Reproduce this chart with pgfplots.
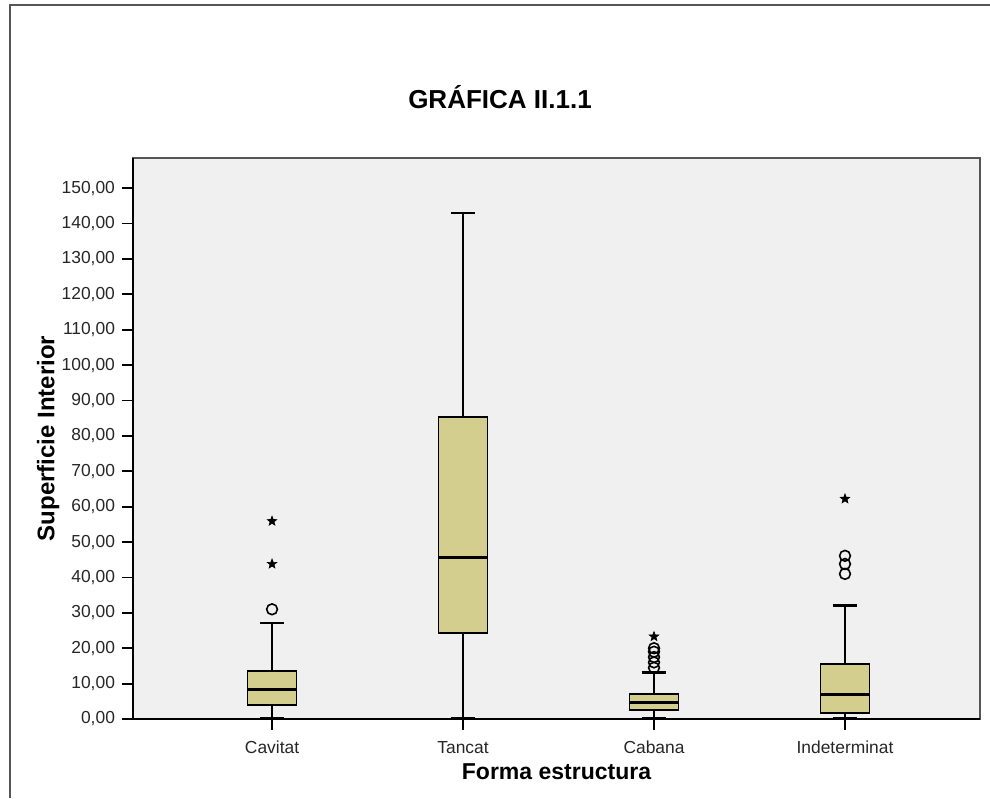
\documentclass[border=0pt]{standalone}
\usepackage{pgfplots}
\pgfplotsset{compat=1.18}
\usepgfplotslibrary{statistics}
\usepackage{fontspec}
\setmainfont{Liberation Sans}
\definecolor{bgcol}{HTML}{F0F0F0}
\definecolor{boxcol}{HTML}{D3CE8D}
\definecolor{framecol}{HTML}{555555}
\pgfdeclareplotmark{fstar}{%
  \pgfpathmoveto{\pgfpointpolar{90}{\pgfplotmarksize}}%
  \pgfpathlineto{\pgfpointpolar{126}{0.42\pgfplotmarksize}}%
  \pgfpathlineto{\pgfpointpolar{162}{\pgfplotmarksize}}%
  \pgfpathlineto{\pgfpointpolar{198}{0.42\pgfplotmarksize}}%
  \pgfpathlineto{\pgfpointpolar{234}{\pgfplotmarksize}}%
  \pgfpathlineto{\pgfpointpolar{270}{0.42\pgfplotmarksize}}%
  \pgfpathlineto{\pgfpointpolar{306}{\pgfplotmarksize}}%
  \pgfpathlineto{\pgfpointpolar{342}{0.42\pgfplotmarksize}}%
  \pgfpathlineto{\pgfpointpolar{18}{\pgfplotmarksize}}%
  \pgfpathlineto{\pgfpointpolar{54}{0.42\pgfplotmarksize}}%
  \pgfpathclose\pgfusepathqfillstroke}
\begin{document}
\begin{tikzpicture}
\path[use as bounding box] (0,0) rectangle (495pt,-399pt);
\draw[framecol, line width=0.7pt] (5pt,-399pt) -- (5pt,-2.5pt) -- (495pt,-2.5pt);
\node[font=\fontsize{13}{15}\selectfont\bfseries] at (250pt,-48.5pt) {GRÁFICA II.1.1};
\begin{axis}[
  at={(66.5pt,-359.5pt)}, anchor=south west,
  scale only axis, width=423.5pt, height=280.5pt,
  xmin=0.272, xmax=4.707, ymin=0, ymax=158.5,
  axis background/.style={fill=bgcol},
  axis line style={draw=framecol, line width=0.6pt},
  xtick={1,2,3,4},
  xticklabels={Cavitat,Tancat,Cabana,Indeterminat},
  ytick={0,10,...,150},
  tick pos=left, tick align=outside,
  major tick length=5.5pt,
  tick style={black, line width=0.9pt},
  yticklabel style={/pgf/number format/.cd, fixed, fixed zerofill, precision=2, use comma, 1000 sep={}, assume math mode=true},
  ticklabel style={font=\fontsize{8.7}{10}\selectfont, text=black!85},
  xticklabel style={text height=1.6ex, text depth=0.3ex},
  xlabel={Forma estructura},
  ylabel={Superficie Interior},
  xlabel style={font=\fontsize{11.5}{13}\selectfont\bfseries, at={(axis description cs:0.5,-0.0945)}, anchor=center},
  ylabel style={font=\fontsize{12}{14}\selectfont\bfseries, at={(axis description cs:-0.1,0.5)}, anchor=center, rotate=0},
  boxplot/draw direction=y,
  boxplot/every box/.style={line width=0.9pt},
  boxplot/every whisker/.style={line width=1.3pt},
  boxplot/every median/.style={line width=1.5pt},
  after end axis/.code={\draw[black, line width=1pt] (rel axis cs:0,1) -- (rel axis cs:0,0) -- (rel axis cs:1,0);},
]
\addplot[boxplot prepared={draw position=1, lower whisker=0.3, lower quartile=3.9, median=8.4, upper quartile=13.6, upper whisker=27.1, box extend=0.257, whisker extend=0.13}, draw=black, fill=boxcol, solid, mark=none] coordinates {};
\addplot[boxplot prepared={draw position=2, lower whisker=0.3, lower quartile=24.4, median=45.6, upper quartile=85.3, upper whisker=143.0, box extend=0.257, whisker extend=0.13}, draw=black, fill=boxcol, solid, mark=none] coordinates {};
\addplot[boxplot prepared={draw position=3, lower whisker=0.2, lower quartile=2.5, median=4.6, upper quartile=7.0, upper whisker=13.2, box extend=0.257, whisker extend=0.13}, draw=black, fill=boxcol, solid, mark=none] coordinates {};
\addplot[boxplot prepared={draw position=4, lower whisker=0.1, lower quartile=1.8, median=6.8, upper quartile=15.5, upper whisker=32.0, box extend=0.257, whisker extend=0.13}, draw=black, fill=boxcol, solid, mark=none] coordinates {};
\addplot[only marks, mark=o, mark size=2.7pt, black, line width=0.8pt] coordinates {
  (1,31.0)
  (3,14.5) (3,16.0) (3,17.5) (3,19.0) (3,20.0)
  (4,41.0) (4,43.8) (4,46.1)
};
\addplot[only marks, mark=fstar, mark size=2.5pt, black, fill=black, line width=0.3pt] coordinates {
  (1,43.8) (1,55.9) (3,23.3) (4,62.2)
};
\end{axis}
\end{tikzpicture}
\end{document}
